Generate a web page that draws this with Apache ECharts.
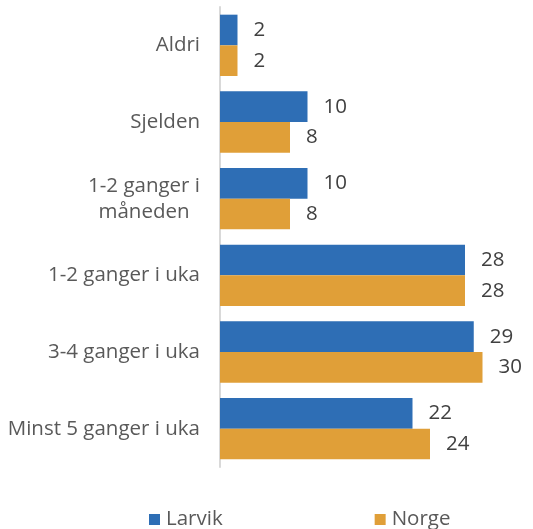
<!DOCTYPE html>
<html>
<head>
<meta charset="utf-8">
<script src="https://cdn.jsdelivr.net/npm/echarts@6/dist/echarts.min.js"></script>
<style>
  html, body { margin: 0; padding: 0; background: #ffffff; }
  #chart { width: 533px; height: 529px; }
</style>
</head>
<body>
<div id="chart"></div>
<script>
// Frequency categories (top to bottom)
const categories = [
  'Aldri',
  'Sjelden',
  '1-2 ganger i\nmåneden',
  '1-2 ganger i uka',
  '3-4 ganger i uka',
  'Minst 5 ganger i uka'
];
// Share of respondents (%)
const larvik = [2, 10, 10, 28, 29, 22];
const norge  = [2, 8, 8, 28, 30, 24];
const seriesNames = ['Larvik', 'Norge'];

const FONT = '"Open Sans", "Liberation Sans", sans-serif';
const FS = 20.5;
const chart = echarts.init(document.getElementById('chart'), null, { renderer: 'canvas' });

function valueLabel() {
  return {
    show: true,
    position: 'right',
    distance: 16,
    color: '#404040',
    fontFamily: FONT,
    fontSize: FS
  };
}

chart.setOption({
  animation: false,
  backgroundColor: '#ffffff',
  grid: { left: 220, top: 7, height: 460, width: 280 },
  legend: {
    left: 144,
    top: 504,
    itemWidth: 11,
    itemHeight: 11,
    itemGap: 152,
    icon: 'rect',
    data: seriesNames,
    textStyle: { color: '#595959', fontFamily: FONT, fontSize: FS, width: 58, padding: [0, 0, 0, 1] }
  },
  xAxis: {
    type: 'value',
    min: 0,
    max: 32,
    show: false
  },
  yAxis: {
    type: 'category',
    data: categories,
    inverse: true,
    axisLine: { show: true, lineStyle: { color: '#d9d9d9', width: 2 } },
    axisTick: { show: false },
    axisLabel: {
      margin: 20,
      color: '#595959',
      fontFamily: FONT,
      fontSize: FS,
      lineHeight: 26,
      formatter: function (v) {
        return v.split('\n').map(function (s) { return '{c|' + s + '}'; }).join('\n');
      },
      rich: {
        c: { align: 'center', color: '#595959', fontFamily: FONT, fontSize: FS, lineHeight: 26 }
      }
    }
  },
  series: [
    {
      name: seriesNames[0],
      type: 'bar',
      data: larvik,
      barGap: '0%',
      barCategoryGap: '20%',
      itemStyle: { color: '#2E6EB5' },
      label: valueLabel()
    },
    {
      name: seriesNames[1],
      type: 'bar',
      data: norge,
      barGap: '0%',
      barCategoryGap: '20%',
      itemStyle: { color: '#E09F38' },
      label: valueLabel()
    }
  ]
});
</script>
</body>
</html>
